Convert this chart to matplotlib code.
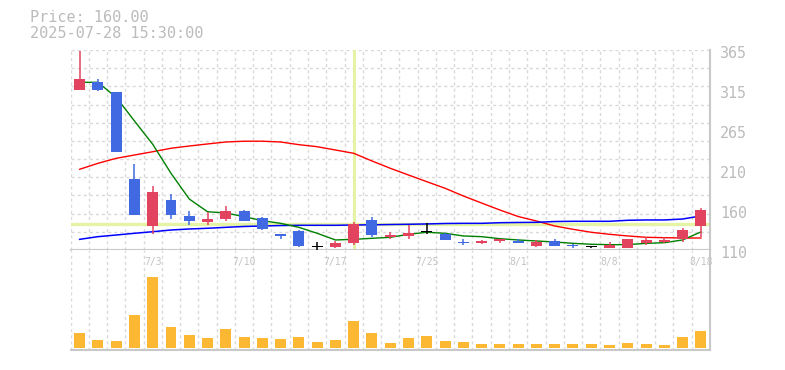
import numpy as np
import matplotlib
matplotlib.use("Agg")
import matplotlib.pyplot as plt
import matplotlib.transforms as mtransforms

dates = ['6/27', '6/30', '7/1', '7/2', '7/3', '7/4', '7/7', '7/8', '7/9', '7/10',
         '7/11', '7/14', '7/15', '7/16', '7/17', '7/18', '7/22', '7/23', '7/24', '7/25',
         '7/28', '7/29', '7/30', '7/31', '8/1', '8/4', '8/5', '8/6', '8/7', '8/8',
         '8/12', '8/13', '8/14', '8/15', '8/18']

opens = [314, 324, 311, 200, 140, 174, 153, 146, 150, 160, 151, 130, 134, 114, 114, 119, 148, 127,
         128, 133, 130, 120, 119, 121.5, 121.5, 115.5, 121.5, 115, 114, 112.6, 112.6, 119, 120, 124, 140]
highs = [364, 328, 311, 220, 192, 181, 160, 158, 166, 161, 152, 131, 135, 120, 122, 146, 152, 133,
         142, 144, 132, 124, 123, 124, 124, 123, 124, 118, 115.5, 120, 124, 126, 126, 138, 163]
lows = [314, 313, 235, 155, 131, 149, 142, 142, 147, 147, 135, 124, 114, 110, 113, 116, 126, 124,
        124, 130, 123, 116, 118, 119, 119, 114, 115.5, 113, 112, 112.6, 112, 117, 118.5, 120, 127]
closes = [328, 314, 235, 155, 184, 155, 147, 149, 160, 147, 137, 128, 115, 114, 119, 143, 129, 129,
          132, 133, 123, 119.5, 122, 124, 119, 120.5, 115.5, 114.7, 114, 116, 124, 123, 123, 135.5, 161]

ma_short = [323.8, 323.8, 304.7, 274.5, 244.8, 207.8, 175.0, 158.8, 157.2, 152.5, 147.4, 144.0,
            138.9, 131.3, 122.8, 123.6, 124.9, 126.2, 130.0, 132.6, 131.3, 127.9, 127.0, 124.4,
            122.8, 121.5, 120.2, 118.5, 117.3, 116.8, 116.8, 118.5, 119.3, 122.8, 133.0]
ma_mid = [212.9, 220.5, 226.9, 231.1, 235.3, 239.7, 242.6, 245.2, 247.7, 248.7, 248.7, 247.7,
          244.3, 241.7, 237.5, 233.3, 223.5, 214.2, 205.6, 197.1, 188.7, 178.9, 169.9, 161.0,
          152.7, 147.0, 140.6, 136.4, 132.6, 130.0, 127.9, 126.2, 125.7, 125.3, 125.3]
ma_long = [123.6, 127.0, 129.1, 131.3, 133.3, 135.5, 136.8, 137.7, 138.9, 140.0, 140.6, 141.2,
           141.5, 141.5, 141.5, 141.9, 142.1, 142.5, 142.8, 143.2, 143.8, 144.0, 144.0, 144.8,
           145.1, 145.3, 146.3, 146.6, 146.6, 146.6, 147.9, 148.3, 148.3, 149.5, 153.4]

volume = [15000, 8000, 7000, 33000, 71000, 21000, 13000, 10000, 19000, 11000, 10000, 9000,
          11000, 6000, 8000, 27000, 15000, 5000, 10000, 12000, 7000, 6000, 4000, 4000,
          4000, 4000, 4000, 4000, 4000, 3000, 5000, 4000, 3000, 11000, 17000]

ytick_vals = [110, 161, 212, 263, 314, 365]
ytick_labels = ['110', '160', '210', '265', '315', '365']

title_lines = ['Price: 160.00', '2025-07-28 15:30:00']
cross_idx = 15
cross_price = 143

up_col = '#e2445f'
down_col = '#4169e1'
doji_col = '#000000'
vol_col = '#fdb833'
grid_col = '#d9d9d9'
txt_col = '#bbbbbb'
frame_col = '#c8c8c8'
mono = 'DejaVu Sans Mono'

fig = plt.figure(figsize=(7.85, 3.7), dpi=100)
ax = fig.add_axes([70.5 / 785, 120 / 370, 639.5 / 785, 200 / 370])
axv = fig.add_axes([70.5 / 785, 20 / 370, 639.5 / 785, 100 / 370])

n = len(closes)
x = np.arange(n)
o = np.array(opens)
c = np.array(closes)

for a in (ax, axv):
    a.set_xlim(-0.5, n - 0.5)
    a.set_xticks(np.arange(-0.5, n, 1))
    a.tick_params(length=0, labelbottom=False, labelleft=False)
    a.grid(axis='x', color=grid_col, lw=1, ls=(0, (2.2, 2.2)), zorder=0)
    a.spines['left'].set_visible(False)
    a.spines['top'].set_visible(False)
    a.spines['bottom'].set_color(frame_col)
    a.spines['right'].set_color(frame_col)
    a.spines['bottom'].set_linewidth(1.5)
    a.spines['right'].set_linewidth(1.5)
    a.set_axisbelow(True)

# price panel
ax.set_ylim(110, 365)
ax.set_yticks(np.linspace(110, 365, 12))
ax.grid(axis='y', color=grid_col, lw=1, ls=(0, (2.2, 2.2)), zorder=0)

ax.axvline(cross_idx, color='#e4f4a4', lw=2.2, zorder=1)
ax.axhline(cross_price, color='#e4f4a4', lw=2.4, zorder=1)

ax.plot(x, ma_mid, color='#ff0000', lw=1, zorder=2)
ax.plot(x, ma_long, color='#0000ff', lw=1.1, zorder=2)
ax.plot(x, ma_short, color='#008000', lw=1, zorder=2)

colors = np.where(c > o, up_col, np.where(c < o, down_col, doji_col))
ax.vlines(x, lows, highs, colors=colors, lw=1.1, zorder=3)
body_h = np.maximum(np.abs(c - o), 1.3)
ax.bar(x, body_h, 0.6, bottom=np.minimum(o, c), color=colors, zorder=4)

lab_tr = mtransforms.offset_copy(ax.get_yaxis_transform(), fig=fig, x=10, y=-3, units='dots')
for v, s in zip(ytick_vals, ytick_labels):
    ax.text(1, v, s, transform=lab_tr, ha='left', va='center', fontsize=10.8,
            color=txt_col, family=mono, clip_on=False)

# volume panel
axv.set_ylim(-2000, 98000)
axv.set_yticks([])
axv.bar(x, volume, 0.6, color=vol_col, zorder=3)
for i in range(4, n, 5):
    axv.text(i, 0.88, dates[i], transform=axv.get_xaxis_transform(), ha='center', va='center',
             fontsize=7, color='#c4c4c4', family=mono)

fig.text(30 / 785, 1 - 17 / 370, title_lines[0], ha='left', va='center', fontsize=11,
         color=txt_col, family=mono)
fig.text(30 / 785, 1 - 33 / 370, title_lines[1], ha='left', va='center', fontsize=11,
         color=txt_col, family=mono)

fig.savefig('out.png', dpi=100)
